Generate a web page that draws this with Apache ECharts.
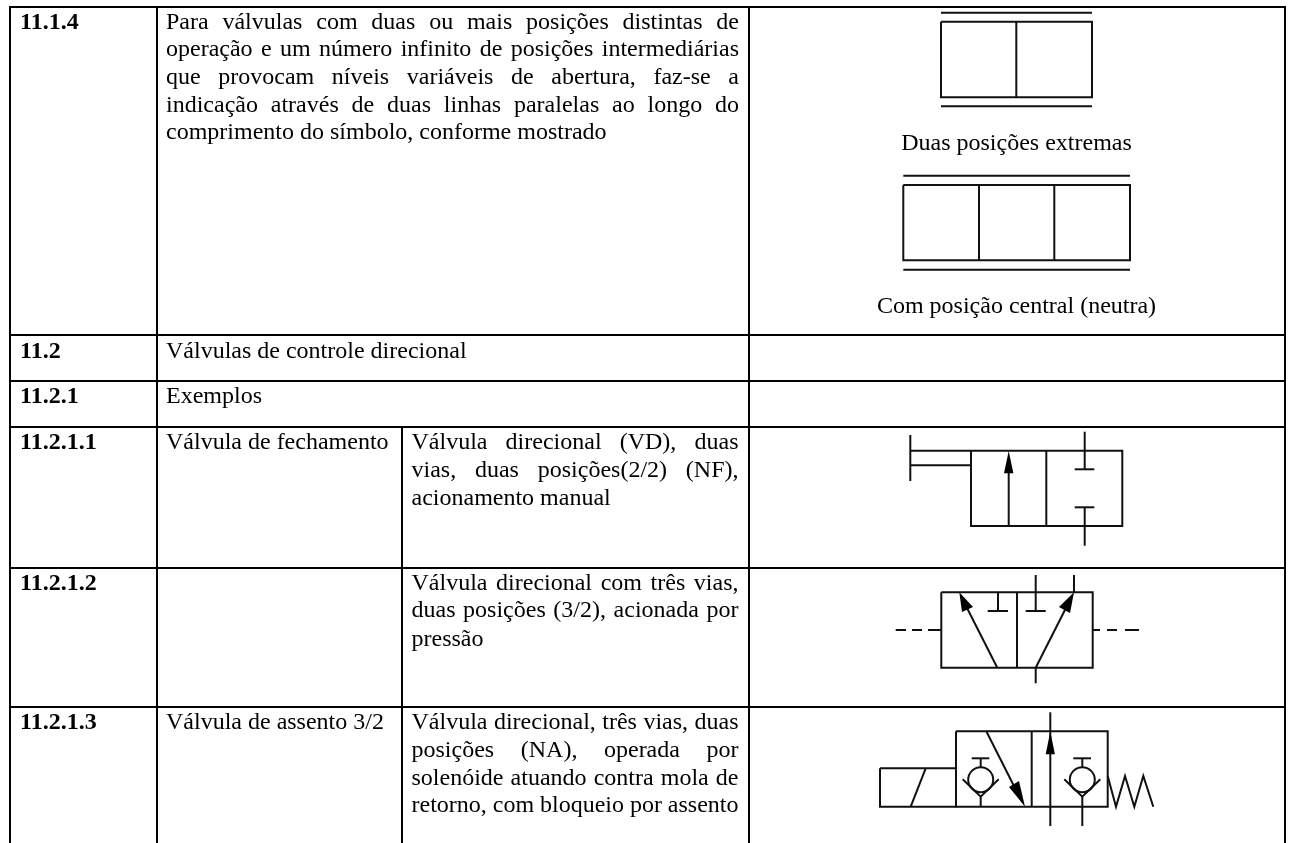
<!DOCTYPE html>
<html><head><meta charset="utf-8">
<style>html,body{margin:0;padding:0;background:#fff}#c{width:1290px;height:843px}</style>
<script src="https://cdn.jsdelivr.net/npm/echarts@6/dist/echarts.min.js"></script>
</head><body><div id="c"></div>
<script>
// Table rules: [x1,y1,x2,y2]
const tableRules = [
  [9,7,1286,7],[9,335,1286,335],[9,381,1286,381],[9,427,1286,427],[9,568,1286,568],[9,707,1286,707],
  [10,6,10,843],[157,6,157,843],[402,427,402,843],[749,6,749,843],[1285,6,1285,843]
];
// Text cells: [text, xLeft, baseline, xRight (justify) or null, bold]
const cellTexts = [
  ["11.1.4",20,30,null,1],["11.2",20,359,null,1],["11.2.1",20,404,null,1],["11.2.1.1",20,450,null,1],["11.2.1.2",20,590.5,null,1],["11.2.1.3",20,730,null,1],
  ["Para válvulas com duas ou mais posições distintas de",166,30,739],
  ["operação e um número infinito de posições intermediárias",166,57,739],
  ["que provocam níveis variáveis de abertura, faz-se a",166,85,739],
  ["indicação através de duas linhas paralelas ao longo do",166,112.5,739],
  ["comprimento do símbolo, conforme mostrado",166,139.5,null],
  ["Válvulas de controle direcional",166,359,null],
  ["Exemplos",166,404,null],
  ["Válvula de fechamento",166,450,null],
  ["Válvula de assento 3/2",166,730,null],
  ["Válvula direcional (VD), duas",411.5,450,738.5],
  ["vias, duas posições(2/2) (NF),",411.5,478,738.5],
  ["acionamento manual",411.5,506,null],
  ["Válvula direcional com três vias,",411.5,590.5,738.5],
  ["duas posições (3/2), acionada por",411.5,618,738.5],
  ["pressão",411.5,646.5,null],
  ["Válvula direcional, três vias, duas",411.5,730,738.5],
  ["posições (NA), operada por",411.5,758,738.5],
  ["solenóide atuando contra mola de",411.5,785.7,738.5],
  ["retorno, com bloqueio por assento",411.5,813,738.5],
];
const captions = [["Duas posições extremas",1016.5,151],["Com posição central (neutra)",1016.5,314]];
// Symbol polylines: flat lists of x,y
const symbolDoubleLines = [[941,12.7,1092,12.7],[941,106.3,1092,106.3],[941,21.7,1092,21.7,1092,97.3,941,97.3,941,21.7],[1016.3,21.7,1016.3,97.3]];
const symbolThreeBox = [[903.3,175.7,1130,175.7],[903.3,269.7,1130,269.7],[903.3,185,1130,185,1130,260.3,903.3,260.3,903.3,185],[979,185,979,260.3],[1054.3,185,1054.3,260.3]];
const symbolShutoff = [[971,450.7,1122.3,450.7,1122.3,526,971,526,971,450.7],[1046.3,450.7,1046.3,526],[910.3,435,910.3,481],[910.3,450.7,971,450.7],[910.3,465.3,971,465.3],[1008.7,526,1008.7,470],[1084.7,431.7,1084.7,469.3],[1074.7,469.3,1094.3,469.3],[1074.7,507.3,1094.3,507.3],[1084.7,507.3,1084.7,545.7]];
const symbolPilot = [[941.3,592.3,1092.7,592.3,1092.7,667.7,941.3,667.7,941.3,592.3],[1017,592.3,1017,667.7],[895.7,630,906,630],[912,630,922,630],[928,630,941,630],[1092.7,630,1100,630],[1107,630,1117,630],[1125,630,1139,630],[997.3,667.7,965,604],[998,592.3,998,611],[987.7,611,1008,611],[1035.7,575,1035.7,611],[1025.7,611,1045.7,611],[1035.7,667.7,1068,604],[1074,575,1074,592.3],[1035.7,667.7,1035.7,683.3]];
const symbolPoppet = [[956,731.3,1107.7,731.3,1107.7,806.7,956,806.7,956,731.3],[1031.7,731.3,1031.7,806.7],[880,768.3,956,768.3],[880,768.3,880,806.7,956,806.7],[910.7,806.7,925.7,768.3],[986.3,731.3,1017,792],[1050.3,712.3,1050.3,826],
  [980.7,758.3,980.7,767],[971.7,758.3,989.3,758.3],[962.7,779.3,980.7,796.7,998.7,779.3],[980.7,796.7,980.7,806.7],
  [1082.3,758.3,1082.3,767],[1073.3,758.3,1091,758.3],[1064.3,779.3,1082.3,796.7,1100.3,779.3],[1082.3,796.7,1082.3,826],
  [1107.7,776,1116,806.7,1125,776,1134.3,806.7,1143.3,776,1153.3,806.7]];
const symbolLines = [...symbolDoubleLines,...symbolThreeBox,...symbolShutoff,...symbolPilot,...symbolPoppet];
// Arrowheads: tip, base-left, base-right
const arrowHeads = [
  [1008.7,451,1004,473.3,1013.4,473.3],
  [959.3,592.3,962,612,973,607],
  [1074,592.3,1059,607,1070,613],
  [1025,806.7,1009,787,1019,781],
  [1050.3,731.5,1045.7,754.3,1054.9,754.3]
];
// Check-valve balls: cx, cy, r
const balls = [[980.7,779.7,12.5],[1082.3,779.7,12.5]];

const FONT='"Liberation Serif","Times New Roman",serif', SIZE=24, BASE_OFFSET=19;
const ctx=document.createElement('canvas').getContext('2d');
const meas=(t,b)=>{ctx.font=(b?'bold ':'')+SIZE+'px "Liberation Serif"';return ctx.measureText(t).width;};
const txt=(t,x,y,b,align)=>({type:'text',style:{text:t,x,y:y-BASE_OFFSET,fill:'#000',font:(b?'bold ':'')+SIZE+'px '+FONT,textAlign:align||'left'},silent:true});

const chart=echarts.init(document.getElementById('c'),null,{renderer:'canvas'});
const seg=(name,data,render)=>({type:'custom',name,coordinateSystem:'cartesian2d',silent:true,animation:false,clip:false,data:data.map((d,i)=>[d[0],d[1],i]),encode:{x:0,y:1},renderItem:(p,api)=>render(data[api.value(2)],api)});
chart.setOption({
  animation:false,backgroundColor:'#fff',
  grid:{left:0,right:0,top:0,bottom:0},
  xAxis:{type:'value',min:0,max:1290,show:false},
  yAxis:{type:'value',min:0,max:843,inverse:true,show:false},
  series:[
    seg('rules',tableRules,(d,api)=>{const a=api.coord([d[0],d[1]]),b=api.coord([d[2],d[3]]);return{type:'line',shape:{x1:a[0],y1:a[1],x2:b[0],y2:b[1]},style:{stroke:'#000',lineWidth:2}};}),
    seg('symbols',symbolLines,(d,api)=>{const pts=[];for(let i=0;i<d.length;i+=2)pts.push(api.coord([d[i],d[i+1]]));return{type:'polyline',shape:{points:pts},style:{stroke:'#111',fill:null,lineWidth:2,lineJoin:'miter'}};}),
    seg('heads',arrowHeads,(d,api)=>{const pts=[];for(let i=0;i<d.length;i+=2)pts.push(api.coord([d[i],d[i+1]]));return{type:'polygon',shape:{points:pts},style:{fill:'#000'}};}),
    seg('balls',balls,(d,api)=>{const c=api.coord([d[0],d[1]]);return{type:'circle',shape:{cx:c[0],cy:c[1],r:d[2]},style:{stroke:'#111',fill:'none',lineWidth:2}};}),
    seg('cells',cellTexts,(d,api)=>{
      const [t,x,y,xr,b]=d,p=api.coord([x,y]);
      if(!xr)return txt(t,p[0],p[1],b);
      const words=t.split(' '),w=words.map(s=>meas(s,b)),sum=w.reduce((s,v)=>s+v,0);
      const gap=(api.coord([xr,y])[0]-p[0]-sum)/(words.length-1);
      let cx=p[0];const children=words.map((s,i)=>{const e=txt(s,cx,p[1],b);cx+=w[i]+gap;return e;});
      return{type:'group',children};
    }),
    seg('captions',captions,(d,api)=>{const p=api.coord([d[1],d[2]]);return txt(d[0],p[0],p[1],0,'center');}),
  ]
});
</script></body></html>
